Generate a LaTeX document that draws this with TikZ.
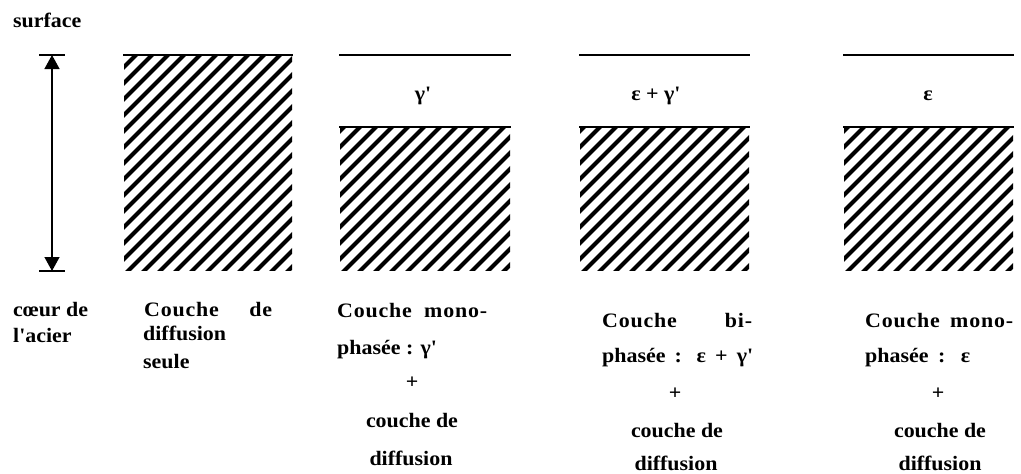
\documentclass[tikz,border=0pt]{standalone}
\usepackage{fontspec}
\usetikzlibrary{arrows.meta}
\newfontfamily\labfont{Liberation Serif}[FakeStretch=1.07]
\newfontfamily\labspfont{Liberation Serif}[FakeStretch=1.07,LetterSpace=4]
\newcommand{\hatchbox}[4]{%
  \begin{scope}
    \clip (#1,#2) rectangle (#3,#4);
    \foreach \k in {-15,...,12} \draw[hatch] ({#1+\k*16},{#4+5}) -- ++(240,-240);
  \end{scope}
  \draw[topline] (#1,#2) -- (#3,#2);}
\tikzset{
  hatch/.style={line width=4pt},
  topline/.style={line width=1.6pt, line cap=rect},
  lbl/.style={font=\labfont\bfseries\fontsize{20.5}{23}\selectfont, inner sep=0pt, anchor=base west},
  lblsp/.style={font=\labspfont\bfseries\fontsize{20.5}{23}\selectfont, inner sep=0pt, anchor=base west},
  clbl/.style={lbl, anchor=base},
  bar/.style={line width=1.3pt},
  dimarrow/.style={line width=1.3pt, {Triangle[width=15pt,length=14pt]}-{Triangle[width=15pt,length=14pt]}}
}
\begin{document}
\begin{tikzpicture}[x=1pt,y=-1pt]
\useasboundingbox (0,0) rectangle (1021,474);
% arrow
\coordinate (atop) at (52,55);
\coordinate (abot) at (52,271);
\draw[bar] (39,55) -- (65,55);
\draw[bar] (39,271) -- (65,271);
\draw[dimarrow] (atop) -- (abot);
\node[lbl] (surf) at (13,27) {surface};
\node[lbl] (coeur1) at (13,316) {cœur de};
\node[lbl] (coeur2) at (13,342) {l'acier};
% box 1
\hatchbox{124}{55}{292}{270}
\node[lblsp] (b1a) at (144,316) {\makebox[128pt][s]{Couche de}};
\node[lbl] (b1b) at (143,340) {diffusion};
\node[lbl] (b1c) at (143,368) {seule};
% box 2
\draw[topline] (340,55) -- (510,55);
\hatchbox{340}{127}{510}{270}
\node[clbl] (g2) at (423,100) {γ'};
\node[lblsp] (b2a) at (337,317) {\makebox[150pt][s]{Couche mono-}};
\node[lbl] (b2b) at (337,354) {phasée : γ'};
\node[clbl] (b2c) at (412,388) {+};
\node[clbl] (b2d) at (412,427) {couche de};
\node[clbl] (b2e) at (411,465) {diffusion};
% box 3
\draw[topline] (580,55) -- (749,55);
\hatchbox{580}{127}{749}{270}
\node[clbl] (g3) at (656,100) {ε + γ'};
\node[lblsp] (b3a) at (602,327) {\makebox[150pt][s]{Couche bi-}};
\node[lbl] (b3b) at (602,362) {\makebox[151pt][s]{phasée : ε + γ'}};
\node[clbl] (b3c) at (675,399) {+};
\node[clbl] (b3d) at (677,437) {couche de};
\node[clbl] (b3e) at (676,470) {diffusion};
% box 4
\draw[topline] (844,55) -- (1013,55);
\hatchbox{844}{127}{1013}{270}
\node[clbl] (g4) at (928,100) {ε};
\node[lblsp] (b4a) at (865,327) {\makebox[148pt][s]{Couche mono-}};
\node[lbl] (b4b) at (865,362) {\makebox[105pt][s]{phasée : ε}};
\node[clbl] (b4c) at (938,399) {+};
\node[clbl] (b4d) at (940,437) {couche de};
\node[clbl] (b4e) at (940,470) {diffusion};
\end{tikzpicture}
\end{document}
